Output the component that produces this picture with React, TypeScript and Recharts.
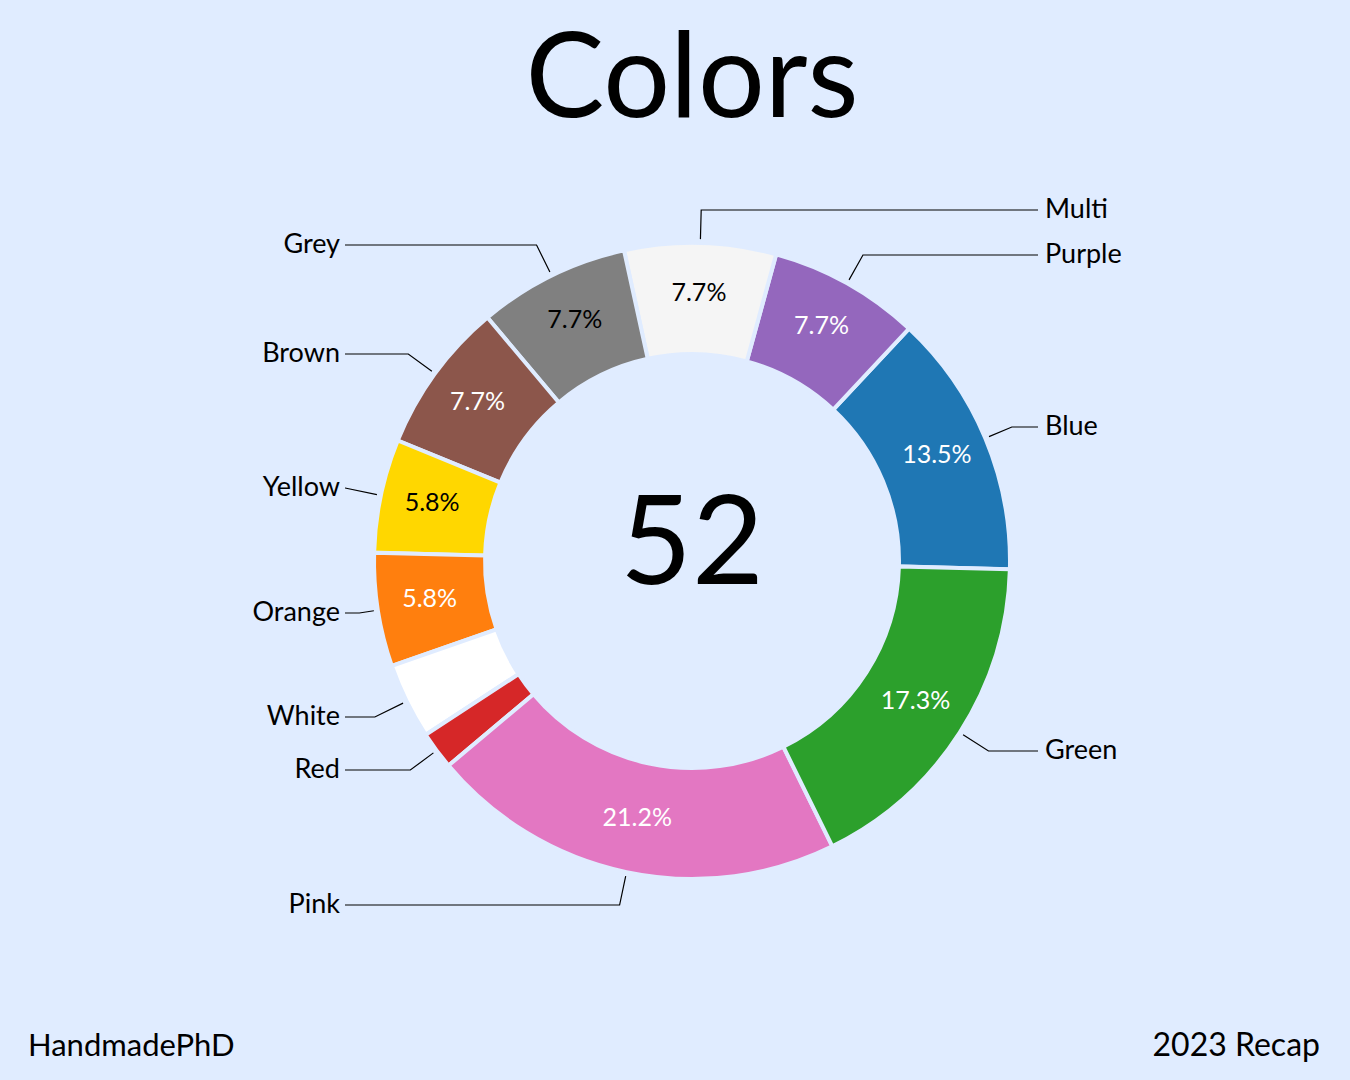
import { Cell, Pie, PieChart } from "recharts";

const categories = ["Blue", "Purple", "Multi", "Grey", "Brown", "Yellow", "Orange", "White", "Red", "Pink", "Green"];
const counts = [7, 4, 4, 4, 4, 3, 3, 2, 1, 11, 9];
const sliceColors = ["#1f77b4", "#9467bd", "#f5f5f5", "#808080", "#8c564b", "#ffd700", "#ff7f0e", "#ffffff", "#d62728", "#e377c2", "#2ca02c"];
const darkText = ["Multi", "Grey", "Yellow"];

// layout: y of each outside label's leader line (page px)
const labelLineY = [427, 255, 210, 245, 354, 488, 613, 717, 770, 905, 751];

const BG = "#e0ecff";
const FONT = "'Comic Sans MS', Lato, 'Noto Sans', sans-serif";
const CX = 692;
const CY = 561;
const INNER = 207;
const OUTER = 318;
const RAD = Math.PI / 180;

const data = categories.map((name, i) => ({ name, value: counts[i] }));
const total = counts.reduce((a, b) => a + b, 0);

function SliceLabel(props: any) {
  const { cx, cy, midAngle, innerRadius, outerRadius, percent, index, name } = props;
  const cos = Math.cos(-midAngle * RAD);
  const sin = Math.sin(-midAngle * RAD);
  const mr = (innerRadius + outerRadius) / 2 + 3;
  const px = cx + mr * cos;
  const py = cy + mr * sin - 5;

  const right = cos >= 0;
  const endX = right ? 1038 : 345;
  const textX = right ? 1045 : 340;
  const sr = outerRadius + 4;
  const sx = cx + sr * cos;
  const sy = cy + sr * sin;
  const ly = labelLineY[index];
  let er = (ly - cy) / sin;
  if (!isFinite(er) || er < sr) er = sr;
  let ex = cx + er * cos;
  let ey = er === sr ? sy : ly;
  if ((right && ex > endX) || (!right && ex < endX)) {
    ex = endX;
    ey = ly;
  }

  return (
    <g>
      {percent >= 0.05 && (
        <text
          x={px}
          y={py}
          textAnchor="middle"
          dominantBaseline="central"
          fill={darkText.includes(name) ? "#000" : "#fff"}
          fontSize={25}
          fontFamily={FONT}
        >
          {(percent * 100).toFixed(1)}%
        </text>
      )}
      <path d={`M${sx},${sy} L${ex},${ey} L${endX},${ly}`} stroke="#000" strokeWidth={1.2} fill="none" />
      <text
        x={textX}
        y={ly - 3}
        textAnchor={right ? "start" : "end"}
        dominantBaseline="central"
        fill="#000"
        fontSize={27}
        fontFamily={FONT}
      >
        {name}
      </text>
    </g>
  );
}

export default function App() {
  return (
    <div style={{ position: "absolute", left: 0, top: 0, width: 1350, height: 1080, background: BG, fontFamily: FONT }}>
      <div style={{ position: "absolute", left: CX - 300, width: 600, top: 2, textAlign: "center", fontSize: 118, lineHeight: "140px", color: "#000" }}>
        Colors
      </div>
      <PieChart
        width={1350}
        height={1080}
        margin={{ top: 0, right: 0, bottom: 0, left: 0 }}
        style={{ position: "absolute", left: 0, top: 0 }}
      >
        <Pie
          data={data}
          dataKey="value"
          nameKey="name"
          cx={CX}
          cy={CY}
          innerRadius={INNER}
          outerRadius={OUTER}
          startAngle={-1.5}
          endAngle={358.5}
          stroke={BG}
          strokeWidth={4}
          label={SliceLabel}
          labelLine={false}
          isAnimationActive={false}
        >
          {data.map((d, i) => (
            <Cell key={d.name} fill={sliceColors[i]} />
          ))}
        </Pie>
      </PieChart>
      <div style={{ position: "absolute", left: CX - 150, width: 300, top: CY - 100, height: 150, lineHeight: "150px", textAlign: "center", fontSize: 124, color: "#000" }}>
        {total}
      </div>
      <div style={{ position: "absolute", left: 28, top: 1025, fontSize: 31, color: "#000" }}>HandmadePhD</div>
      <div style={{ position: "absolute", right: 30, top: 1024, fontSize: 32, color: "#000" }}>2023 Recap</div>
    </div>
  );
}
